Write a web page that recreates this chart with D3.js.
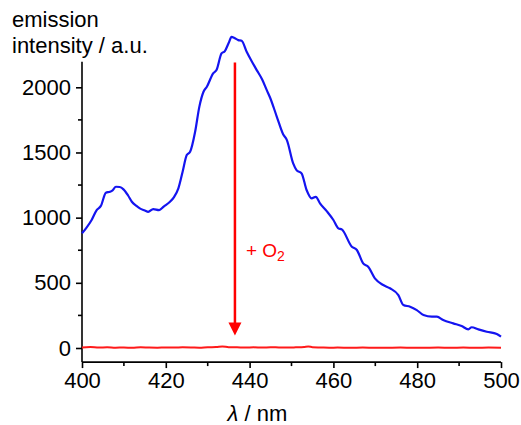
<!DOCTYPE html>
<html><head><meta charset="utf-8">
<script src="https://cdn.jsdelivr.net/npm/d3@7"></script>
<style>
body{margin:0;background:#fff;}
text{font-family:"Liberation Sans",Arial,sans-serif;}
</style></head>
<body><svg id="c" width="521" height="425"></svg>
<script>
// Data
const blueWl = [400,401,402.3,403.5,404.5,405.7,406.7,407.3,408.1,409,409.9,411,411.9,413,413.8,415,415.8,417,418.4,419.5,421,422,423,424,425,425.8,427,428,429,429.8,431.3,432.1,433.3,434.1,435,435.7,436.3,437.3,438.1,439.3,440.5,441.7,443,444.1,444.9,446.5,448,448.9,450.4,451.2,452.4,453.6,454.8,455.8,456.8,458.4,460,461.2,462,464.4,465.6,467.1,468.3,469.9,471.9,473.5,475.5,476.7,478.3,479.9,481.5,483.5,484.7,486.2,488.6,490.6,492.2,493,494.6,496.6,499,500];
const blueVal = [880,920,982,1058,1090,1191,1199,1210,1237,1235,1217,1170,1122,1090,1071,1055,1045,1066,1058,1085,1122,1160,1225,1350,1480,1505,1659,1850,1966,2004,2107,2132,2260,2278,2340,2387,2380,2362,2357,2272,2200,2132,2060,1978,1920,1774,1640,1595,1416,1365,1340,1212,1148,1160,1110,1050,982,918,910,777,752,649,623,534,483,458,406,330,317,291,253,240,240,215,189,169,143,159,143,125,107,87];
const redWl = [400,402,404,406,408,410,412,414,416,418,420,422,424,426,428,430,432,433.5,435,437,439,441,443,445,447,449,451,453,454,455,457,459,461,464,467,470,473,476,479,482,485,488,491,494,497,500];
const redVal = [4,7,3,5,2,4,1,5,3,2,4,3,5,4,2,6,7,12,6,5,3,5,3,6,4,3,5,8,12,6,4,2,3,2,3,1,2,3,1,2,3,1,3,2,3,2];
const xTicks = [400,420,440,460,480,500];
const yTicks = [0,500,1000,1500,2000];
const arrowX = 436.5, arrowFrom = 2190, arrowTo = 95;

const svg = d3.select("#c");
const x = d3.scaleLinear().domain([400,500]).range([82,501]);
const y = d3.scaleLinear().domain([0,2000]).range([348,87.3]);
const yTop = 2196, yBot = -108;

const FS = 22;
// x axis
const xAxis = d3.axisBottom(x).tickValues(xTicks).tickFormat(d3.format("d")).tickSize(6).tickPadding(4).tickSizeOuter(0);
const gx = svg.append("g").attr("transform",`translate(0,${y(yBot)})`).call(xAxis);
gx.select(".domain").attr("d",`M${x(400)},0H${x(500)}`);
gx.selectAll(".tick text").attr("font-size",FS).attr("font-family","Liberation Sans, Arial, sans-serif").attr("fill","#000");
gx.selectAll(".tick line,.domain").attr("stroke","#000").attr("stroke-width",1.6);
gx.selectAll(".minor").data([410,430,450,470,490]).enter().append("line")
  .attr("x1",d=>x(d)).attr("x2",d=>x(d)).attr("y1",0).attr("y2",4)
  .attr("stroke","#000").attr("stroke-width",1.6);

// y axis
const yAxis = d3.axisLeft(y).tickValues(yTicks).tickFormat(d3.format("d")).tickSize(6).tickPadding(5).tickSizeOuter(0);
const gy = svg.append("g").attr("transform",`translate(${x(400)},0)`).call(yAxis);
gy.select(".domain").attr("d",`M0,${y(yTop)}V${y(yBot)}`);
gy.selectAll(".tick text").attr("font-size",FS).attr("font-family","Liberation Sans, Arial, sans-serif").attr("fill","#000");
gy.selectAll(".tick line,.domain").attr("stroke","#000").attr("stroke-width",1.6);
gy.selectAll(".minor").data([250,750,1250,1750]).enter().append("line")
  .attr("y1",d=>y(d)).attr("y2",d=>y(d)).attr("x1",0).attr("x2",-4)
  .attr("stroke","#000").attr("stroke-width",1.6);

// lines
const line = d3.line().x(d=>x(d[0])).y(d=>y(d[1])).curve(d3.curveMonotoneX);
svg.append("path").datum(redWl.map((w,i)=>[w,redVal[i]]))
  .attr("d",line).attr("fill","none").attr("stroke","#ff1a1a").attr("stroke-width",2);
svg.append("path").datum(blueWl.map((w,i)=>[w,blueVal[i]]))
  .attr("d",line).attr("fill","none").attr("stroke","#1414f0").attr("stroke-width",2.2);

// arrow
const ax = x(arrowX), ay1 = y(arrowFrom), ay2 = y(arrowTo);
svg.append("line").attr("x1",ax).attr("x2",ax).attr("y1",ay1).attr("y2",ay2-10)
  .attr("stroke","#ff0000").attr("stroke-width",2.5);
svg.append("path").attr("d",`M${ax-6.5},${ay2-13}L${ax+6.5},${ay2-13}L${ax},${ay2}Z`).attr("fill","#ff0000");
const lab = svg.append("text").attr("x",ax+11).attr("y",256.5).attr("font-size",19).attr("fill","#ff0000");
lab.append("tspan").text("+ O");
lab.append("tspan").attr("font-size",14).attr("dy",4.5).text("2");

// titles
const t = svg.append("text").attr("x",12).attr("font-size",FS).attr("fill","#000");
t.append("tspan").attr("x",12).attr("y",27).text("emission");
t.append("tspan").attr("x",12).attr("y",52.5).text("intensity / a.u.");
const xl = svg.append("text").attr("x",x(450)-64).attr("y",421).attr("font-size",FS).attr("fill","#000");
xl.append("tspan").attr("font-style","italic").text("λ");
xl.append("tspan").text(" / nm");
</script></body></html>
